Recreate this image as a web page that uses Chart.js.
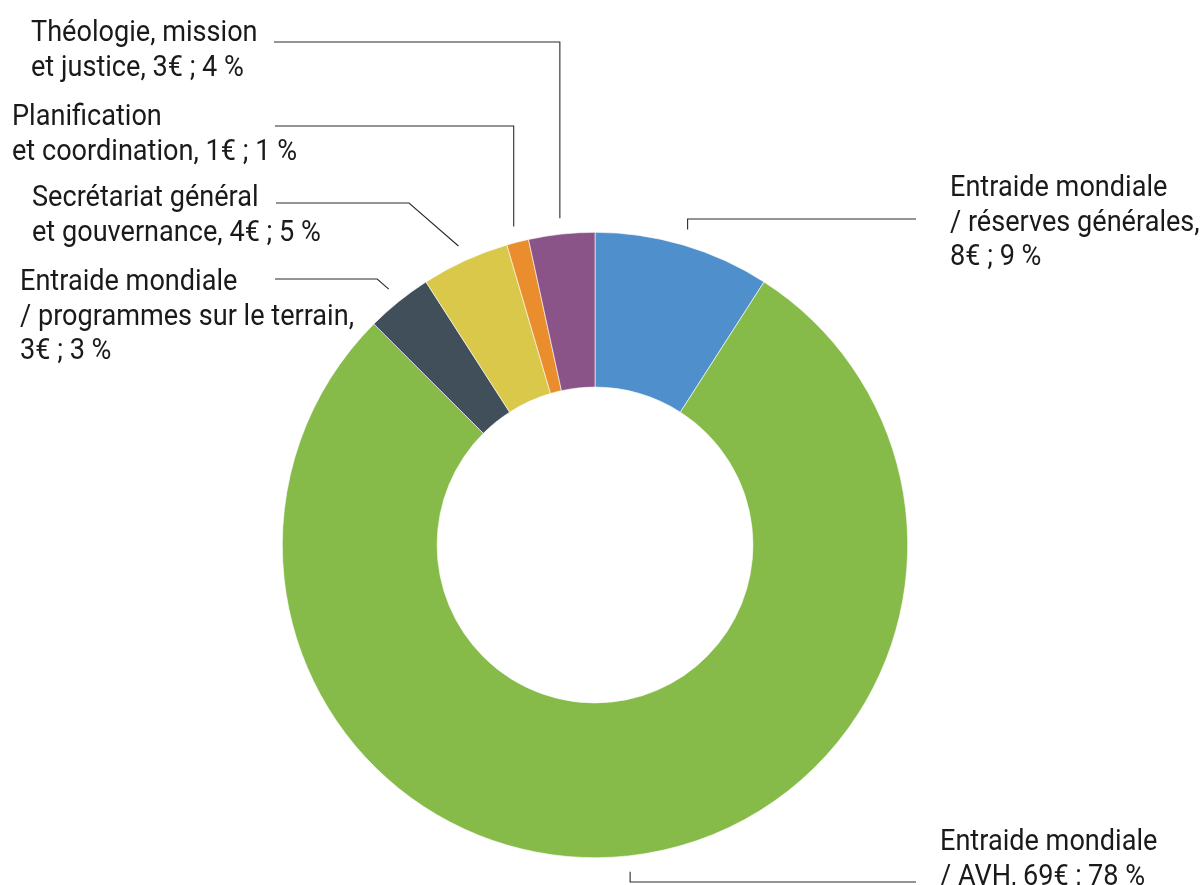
<!DOCTYPE html>
<html>
<head>
<meta charset="utf-8">
<script src="https://cdn.jsdelivr.net/npm/chart.js@4"></script>
<style>
  html, body { margin: 0; padding: 0; background: #ffffff; }
  #wrap { position: relative; width: 1200px; height: 885px; }
</style>
</head>
<body>
<div id="wrap"><canvas id="c"></canvas></div>
<script>
// ---- Data ----
const categories = [
  "Entraide mondiale / réserves générales",
  "Entraide mondiale / AVH",
  "Entraide mondiale / programmes sur le terrain",
  "Secrétariat général et gouvernance",
  "Planification et coordination",
  "Théologie, mission et justice"
];
const amountsEUR = [8, 69, 3, 4, 1, 3];
const percents = [9, 78, 3, 5, 1, 4];
const colors = ["#4F8FCB", "#87BB49", "#414F5A", "#D9C84A", "#E98D2D", "#8A5489"];

// Label text lines ({v} = amount, {p} = percent)
const labelLines = [
  ["Entraide mondiale", "/ réserves générales,", "{v}€ ; {p} %"],
  ["Entraide mondiale", "/ AVH, {v}€ ; {p} %"],
  ["Entraide mondiale", "/ programmes sur le terrain,", "{v}€ ; {p} %"],
  ["Secrétariat général", "et gouvernance, {v}€ ; {p} %"],
  ["Planification", "et coordination, {v}€ ; {p} %"],
  ["Théologie, mission", "et justice, {v}€ ; {p} %"]
];

// Label layout (text position, leader horizontal y, leader end x, route)
const labelLayout = [
  { tx: 950, ty: 196, lineY: 219, endX: 916, route: "v" },
  { tx: 940, ty: 850, lineY: 882, endX: 916, route: "v" },
  { tx: 20,  ty: 290, lineY: 279, endX: 275, route: "d" },
  { tx: 32,  ty: 206, lineY: 203, endX: 276, route: "d" },
  { tx: 12,  ty: 125, lineY: 126, endX: 275, route: "v" },
  { tx: 31,  ty: 41,  lineY: 42,  endX: 274, route: "v" }
];

const FONT = "29px Roboto, 'DejaVu Sans Condensed', sans-serif";
const LINE_H = 34.5;
const REF_TEXT = "/ programmes sur le terrain,";
const REF_WIDTH = 334;

const leaderPlugin = {
  id: 'leaders',
  afterDraw(chart) {
    const ctx = chart.ctx;
    const meta = chart.getDatasetMeta(0);
    ctx.save();
    ctx.font = FONT;
    const sx = REF_WIDTH / ctx.measureText(REF_TEXT).width;
    meta.data.forEach((arc, i) => {
      const p = arc.getProps(['x', 'y', 'startAngle', 'endAngle', 'outerRadius'], true);
      const mid = (p.startAngle + p.endAngle) / 2;
      const r = p.outerRadius + 16;
      const ax = p.x + Math.cos(mid) * r;
      const ay = p.y + Math.sin(mid) * r;
      const L = labelLayout[i];
      ctx.strokeStyle = "#2b2b2b";
      ctx.lineWidth = 1.1;
      ctx.beginPath();
      ctx.moveTo(ax, ay);
      let ex, ey = L.lineY;
      if (L.route === "v") {
        ex = ax;
      } else {
        ex = ax - (ay - L.lineY) * 1.15;
      }
      ctx.lineTo(ex, ey);
      ctx.lineTo(L.endX, ey);
      ctx.stroke();
      ctx.save();
      ctx.translate(L.tx, 0);
      ctx.scale(sx, 1);
      ctx.font = FONT;
      ctx.fillStyle = "#1a1a1a";
      ctx.textBaseline = "alphabetic";
      ctx.textAlign = "left";
      labelLines[i].forEach((t, k) => {
        const s = t.replace("{v}", amountsEUR[i]).replace("{p}", percents[i]);
        ctx.fillText(s, 0, L.ty + k * LINE_H);
      });
      ctx.restore();
    });
    ctx.restore();
  }
};

new Chart(document.getElementById('c'), {
  type: 'doughnut',
  data: {
    labels: categories,
    datasets: [{
      data: amountsEUR,
      backgroundColor: colors,
      borderColor: "#ffffff",
      borderWidth: 0.6
    }]
  },
  options: {
    responsive: true,
    maintainAspectRatio: false,
    animation: false,
    cutout: '50.5%',
    layout: { padding: { top: 232, bottom: 27, left: 0, right: 10 } },
    plugins: {
      legend: { display: false },
      tooltip: { enabled: false }
    }
  },
  plugins: [leaderPlugin]
});
</script>
</body>
</html>
